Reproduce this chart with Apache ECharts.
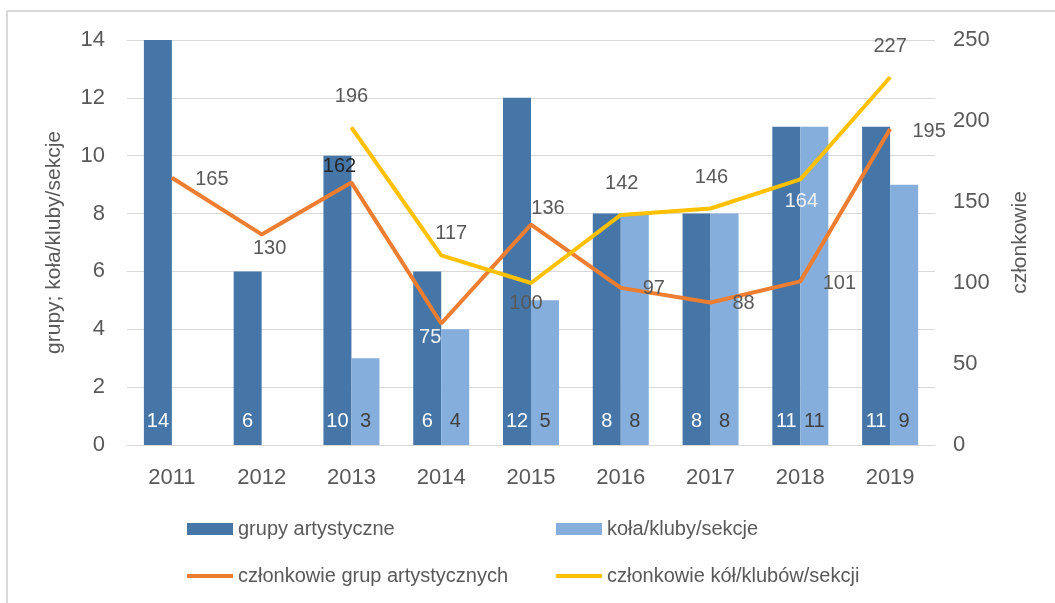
<!DOCTYPE html>
<html>
<head>
<meta charset="utf-8">
<script src="https://cdn.jsdelivr.net/npm/echarts@6/dist/echarts.min.js"></script>
<style>
  html, body { margin: 0; padding: 0; background: #fff; }
  #chart { width: 1055px; height: 603px; }
</style>
</head>
<body>
<div id="chart"></div>
<script>
// Lata
const years = ['2011', '2012', '2013', '2014', '2015', '2016', '2017', '2018', '2019'];
// Liczba grup artystycznych
const artGroups = [14, 6, 10, 6, 12, 8, 8, 11, 11];
// Liczba kół/klubów/sekcji
const clubs = [null, null, 3, 4, 5, 8, 8, 11, 9];
// Członkowie grup artystycznych
const artMembers = [165, 130, 162, 75, 136, 97, 88, 101, 195];
// Członkowie kół/klubów/sekcji
const clubMembers = [null, null, 196, 117, 100, 142, 146, 164, 227];

const FONT = '"Liberation Sans", Arial, sans-serif';
const TXT = '#595959';

// Label placement for line points: offset of the label centre from the point
const artLabelOffsets = [[40, 2], [8, 14], [-12, -16], [-11, 14], [17, -16], [33, 1], [33, 1], [39, 2], [39, 2]];
const clubLabelOffsets = [null, null, [0, -31], [10, -22], [-5, 20], [1, -31], [1, -31], [1, 22], [0, -31]];
const artLabelColors = [TXT, TXT, '#262626', '#f2f2f2', TXT, TXT, TXT, TXT, TXT];
const clubLabelColors = [TXT, TXT, TXT, TXT, TXT, TXT, TXT, '#f2f2f2', TXT];

function lineData(values, offsets, colors) {
  return values.map((v, i) => {
    if (v === null) return null;
    return {
      value: v,
      label: { offset: offsets[i], color: colors[i] }
    };
  });
}

const chart = echarts.init(document.getElementById('chart'), null, { renderer: 'canvas' });

const legendBase = {
  itemWidth: 46,
  itemGap: 0,
  icon: 'rect',
  textStyle: { fontFamily: FONT, fontSize: 20, color: TXT },
  selectedMode: false
};

chart.setOption({
  animation: false,
  backgroundColor: '#fff',
  textStyle: { fontFamily: FONT },
  graphic: [
    { type: 'line', shape: { x1: 7, y1: 11, x2: 1055, y2: 11 }, style: { stroke: '#d9d9d9', lineWidth: 2 } },
    { type: 'line', shape: { x1: 7, y1: 11, x2: 7, y2: 603 }, style: { stroke: '#d9d9d9', lineWidth: 2 } }
  ],
  grid: { left: 127, right: 120, top: 40, bottom: 158 },
  legend: [
    Object.assign({}, legendBase, { left: 182, top: 514, itemHeight: 12, data: ['grupy artystyczne'] }),
    Object.assign({}, legendBase, { left: 551, top: 514, itemHeight: 12, data: ['koła/kluby/sekcje'] }),
    Object.assign({}, legendBase, { left: 182, top: 561, itemHeight: 4, data: ['członkowie grup artystycznych'] }),
    Object.assign({}, legendBase, { left: 551, top: 561, itemHeight: 4, data: ['członkowie kół/klubów/sekcji'] })
  ],
  xAxis: {
    type: 'category',
    data: years,
    axisLine: { show: true, lineStyle: { color: '#d9d9d9', width: 1 } },
    axisTick: { show: false },
    axisLabel: { color: TXT, fontSize: 22, fontFamily: FONT, margin: 22 }
  },
  yAxis: [
    {
      type: 'value',
      min: 0, max: 14, interval: 2,
      name: 'grupy; koła/kluby/sekcje',
      nameLocation: 'middle',
      nameGap: 62,
      nameTextStyle: { color: TXT, fontSize: 21, fontFamily: FONT },
      axisLine: { show: false },
      axisTick: { show: false },
      axisLabel: { color: TXT, fontSize: 22, fontFamily: FONT, margin: 22 },
      splitLine: { lineStyle: { color: '#d9d9d9', width: 1 } }
    },
    {
      type: 'value',
      min: 0, max: 250, interval: 50,
      name: 'członkowie',
      nameLocation: 'middle',
      nameRotate: 90,
      nameGap: 75,
      nameTextStyle: { color: TXT, fontSize: 21, fontFamily: FONT },
      axisLine: { show: false },
      axisTick: { show: false },
      axisLabel: { color: TXT, fontSize: 22, fontFamily: FONT, margin: 18 },
      splitLine: { show: false }
    }
  ],
  series: [
    {
      name: 'grupy artystyczne',
      type: 'bar',
      data: artGroups,
      barWidth: 28,
      barGap: '0%',
      itemStyle: { color: '#4676A7' },
      label: {
        show: true, position: 'insideBottom', distance: 14,
        color: '#ffffff', fontSize: 20, fontFamily: FONT
      }
    },
    {
      name: 'koła/kluby/sekcje',
      type: 'bar',
      data: clubs,
      barWidth: 28,
      barGap: '0%',
      itemStyle: { color: '#85AEDC' },
      label: {
        show: true, position: 'insideBottom', distance: 14,
        color: '#404040', fontSize: 20, fontFamily: FONT
      }
    },
    {
      name: 'członkowie grup artystycznych',
      type: 'line',
      yAxisIndex: 1,
      data: lineData(artMembers, artLabelOffsets, artLabelColors),
      symbol: 'circle',
      symbolSize: 1,
      itemStyle: { color: '#ED7D31' },
      lineStyle: { color: '#ED7D31', width: 4 },
      label: { show: true, position: 'inside', fontSize: 20, fontFamily: FONT, color: TXT }
    },
    {
      name: 'członkowie kół/klubów/sekcji',
      type: 'line',
      yAxisIndex: 1,
      data: lineData(clubMembers, clubLabelOffsets, clubLabelColors),
      symbol: 'circle',
      symbolSize: 1,
      itemStyle: { color: '#FFC000' },
      lineStyle: { color: '#FFC000', width: 4 },
      label: { show: true, position: 'inside', fontSize: 20, fontFamily: FONT, color: TXT }
    }
  ]
});
</script>
</body>
</html>
